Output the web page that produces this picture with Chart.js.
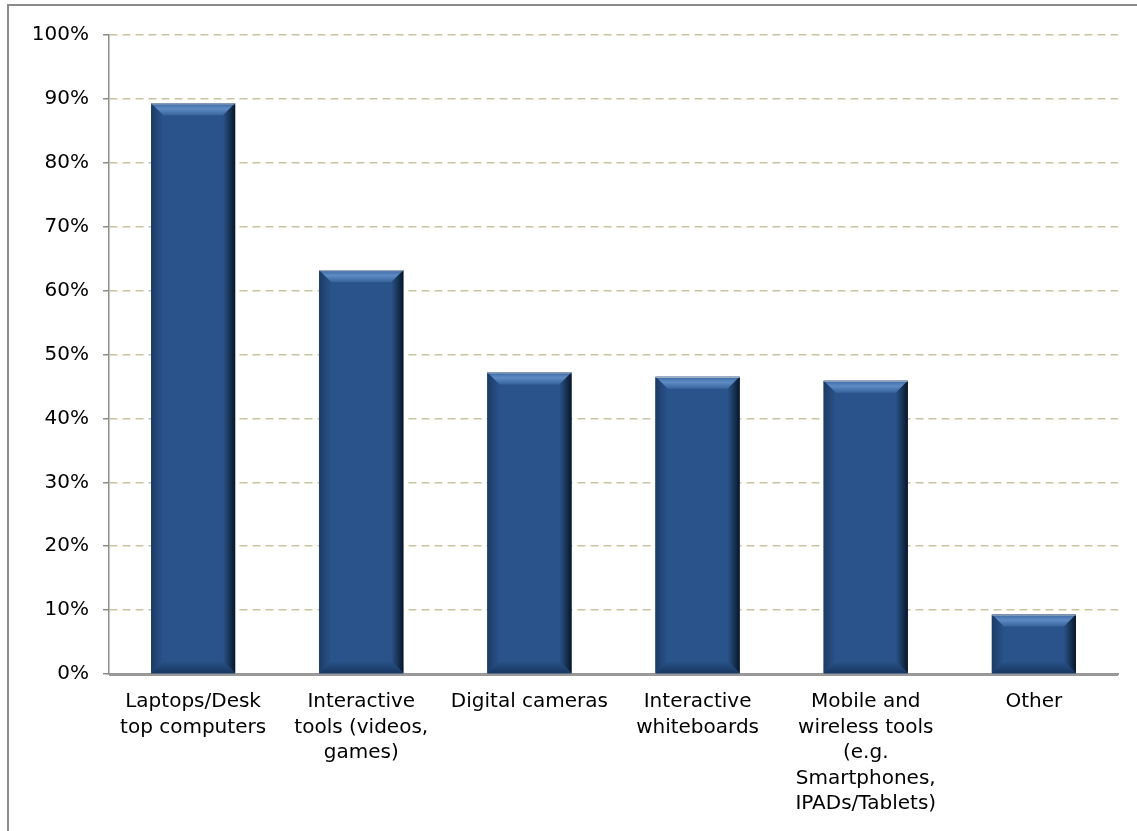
<!DOCTYPE html>
<html>
<head>
<meta charset="utf-8">
<script src="https://cdn.jsdelivr.net/npm/chart.js@4/dist/chart.umd.min.js"></script>
<style>
  html, body { margin: 0; padding: 0; background: #fff; overflow: hidden; }
  #frame { position: absolute; left: 7px; top: 4px; width: 1300px; height: 1000px; border: 2px solid #8c8c8c; box-sizing: border-box; }
  #wrap { position: absolute; left: 0; top: 0; width: 1137px; height: 831px; }
</style>
</head>
<body>
<div id="frame"></div>
<div id="wrap"><canvas id="c" width="1137" height="831"></canvas></div>
<script>
const categories = [
  ["Laptops/Desk", "top computers"],
  ["Interactive", "tools (videos,", "games)"],
  ["Digital cameras"],
  ["Interactive", "whiteboards"],
  ["Mobile and", "wireless tools", "(e.g.", "Smartphones,", "IPADs/Tablets)"],
  ["Other"]
];
const values = [89.3, 63.2, 47.2, 46.5, 45.9, 9.3];
const yTicks = [0, 10, 20, 30, 40, 50, 60, 70, 80, 90, 100];

const bevelPlugin = {
  id: 'bevel',
  afterDatasetsDraw(chart) {
    const ctx = chart.ctx;
    const meta = chart.getDatasetMeta(0);
    meta.data.forEach(bar => {
      const p = bar.getProps(['x', 'y', 'base', 'width'], true);
      const l = p.x - p.width / 2, r = p.x + p.width / 2, t = p.y, b = p.base;
      const h = b - t;
      const s = Math.min(12, h / 2.2, p.width / 4);
      ctx.save();
      ctx.fillStyle = '#29538a';
      ctx.fillRect(l, t, r - l, h);
      let g = ctx.createLinearGradient(0, t, 0, t + s);
      g.addColorStop(0, '#3d6aa4');
      g.addColorStop(0.45, '#5e8bc3');
      g.addColorStop(1, '#38639d');
      ctx.fillStyle = g;
      ctx.beginPath(); ctx.moveTo(l, t); ctx.lineTo(r, t); ctx.lineTo(r - s, t + s); ctx.lineTo(l + s, t + s); ctx.closePath(); ctx.fill();
      g = ctx.createLinearGradient(l, 0, l + s, 0);
      g.addColorStop(0, '#1c3b66');
      g.addColorStop(1, '#29538a');
      ctx.fillStyle = g;
      ctx.beginPath(); ctx.moveTo(l, t); ctx.lineTo(l + s, t + s); ctx.lineTo(l + s, b - s); ctx.lineTo(l, b); ctx.closePath(); ctx.fill();
      g = ctx.createLinearGradient(r - s, 0, r, 0);
      g.addColorStop(0, '#29538a');
      g.addColorStop(0.6, '#16304f');
      g.addColorStop(1, '#0a1626');
      ctx.fillStyle = g;
      ctx.beginPath(); ctx.moveTo(r, t); ctx.lineTo(r, b); ctx.lineTo(r - s, b - s); ctx.lineTo(r - s, t + s); ctx.closePath(); ctx.fill();
      g = ctx.createLinearGradient(0, b - s, 0, b);
      g.addColorStop(0, '#29538a');
      g.addColorStop(1, '#183660');
      ctx.fillStyle = g;
      ctx.beginPath(); ctx.moveTo(l, b); ctx.lineTo(r, b); ctx.lineTo(r - s, b - s); ctx.lineTo(l + s, b - s); ctx.closePath(); ctx.fill();
      ctx.strokeStyle = 'rgba(200,200,200,0.8)';
      ctx.lineWidth = 1;
      ctx.beginPath(); ctx.moveTo(l, t + 0.5); ctx.lineTo(r, t + 0.5); ctx.stroke();
      ctx.restore();
    });
    const ca = chart.chartArea;
    ctx.save();
    ctx.strokeStyle = '#999999';
    ctx.lineWidth = 2;
    ctx.beginPath(); ctx.moveTo(ca.left, ca.bottom + 1); ctx.lineTo(ca.right, ca.bottom + 1); ctx.stroke();
    ctx.restore();
  }
};

Chart.defaults.font.family = '"DejaVu Sans", Verdana, sans-serif';
Chart.defaults.font.size = 20;
Chart.defaults.color = '#000';

new Chart(document.getElementById('c'), {
  type: 'bar',
  data: {
    labels: categories,
    datasets: [{
      data: values,
      backgroundColor: '#29538a',
      barPercentage: 0.5,
      categoryPercentage: 1.0
    }]
  },
  options: {
    responsive: false,
    animation: false,
    events: [],
    layout: { padding: { top: 35, right: 19, left: 0, bottom: 0 } },
    plugins: { legend: { display: false }, tooltip: { enabled: false } },
    scales: {
      x: {
        grid: { display: false, drawTicks: false },
        border: { display: true, color: '#999999', width: 2 },
        ticks: { padding: 15, maxRotation: 0, autoSkip: false, font: { size: 20, lineHeight: 1.28 } },
        afterFit(scale) { scale.height = 831 - 674; }
      },
      y: {
        min: 0, max: 100,
        afterBuildTicks(scale) { scale.ticks = yTicks.map(v => ({ value: v })); },
        grid: {
          color: '#c9c3a0',
          lineWidth: 1.5,
          tickColor: '#8c8c8c',
          tickLength: 6,
          tickWidth: 1.5,
          tickBorderDash: []
        },
        border: { display: true, color: '#8c8c8c', width: 1.5, dash: [8, 5] },
        ticks: {
          padding: 14,
          callback: v => v + '%',
          font: { size: 20 }
        },
        afterFit(scale) { scale.width = 109; }
      }
    }
  },
  plugins: [bevelPlugin]
});
</script>
</body>
</html>
